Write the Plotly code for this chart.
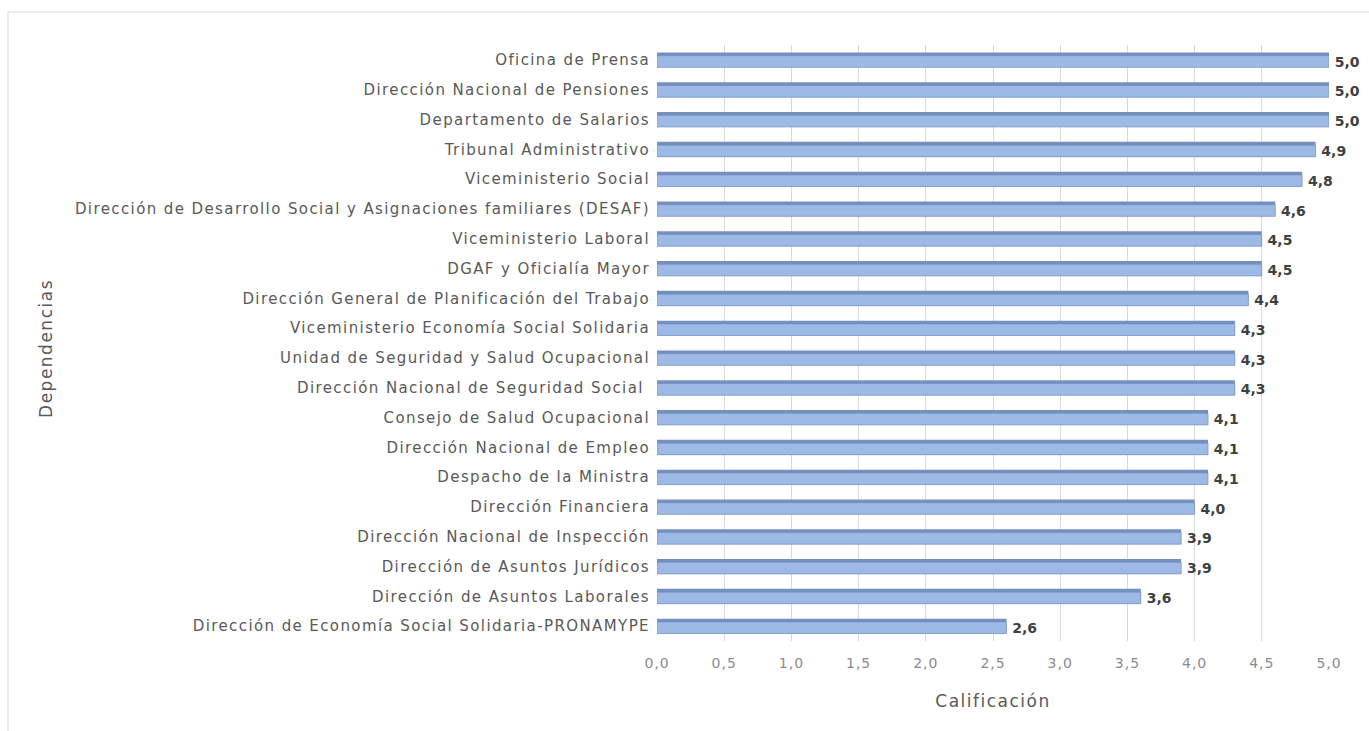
import plotly.graph_objects as go

dependencias = [
    "Oficina de Prensa",
    "Dirección Nacional de Pensiones",
    "Departamento de Salarios",
    "Tribunal Administrativo",
    "Viceministerio Social",
    "Dirección de Desarrollo Social y Asignaciones familiares (DESAF)",
    "Viceministerio Laboral",
    "DGAF y Oficialía Mayor",
    "Dirección General de Planificación del Trabajo",
    "Viceministerio Economía Social Solidaria",
    "Unidad de Seguridad y Salud Ocupacional",
    "Dirección Nacional de Seguridad Social ",
    "Consejo de Salud Ocupacional",
    "Dirección Nacional de Empleo",
    "Despacho de la Ministra",
    "Dirección Financiera",
    "Dirección Nacional de Inspección",
    "Dirección de Asuntos Jurídicos",
    "Dirección de Asuntos Laborales",
    "Dirección de Economía Social Solidaria-PRONAMYPE",
]
calificacion = [5.0, 5.0, 5.0, 4.9, 4.8, 4.6, 4.5, 4.5, 4.4, 4.3,
                4.3, 4.3, 4.1, 4.1, 4.1, 4.0, 3.9, 3.9, 3.6, 2.6]
tick_vals = [0, 0.5, 1, 1.5, 2, 2.5, 3, 3.5, 4, 4.5, 5]
tick_text = ["0,0", "0,5", "1,0", "1,5", "2,0", "2,5", "3,0", "3,5", "4,0", "4,5", "5,0"]

etiquetas = ["\u2009" + f"{v:.1f}".replace(".", ",") for v in calificacion]


def spaced(txt, px):
    return f'<span style="letter-spacing:{px}px">{txt}</span>'


FONT = "DejaVu Sans"
W, H = 1369, 731
ML, MR, MT, MB = 657, 40, 45, 90

fig = go.Figure()

# darker strip that reads as the bar's top face
fig.add_trace(go.Bar(
    y=dependencias, x=calificacion, orientation="h",
    width=0.5, offset=-0.25,
    marker=dict(color="#7590BF", line=dict(width=0)),
    hoverinfo="skip", showlegend=False,
))
# main bar face with value labels
fig.add_trace(go.Bar(
    y=dependencias, x=calificacion, orientation="h",
    width=0.39, offset=-0.14,
    marker=dict(color="#9DBAE6", line=dict(color="#6F8BBA", width=0.6)),
    text=etiquetas, textposition="outside", cliponaxis=False,
    constraintext="none",
    textfont=dict(family=FONT, size=14, color="#404040", weight="bold"),
    showlegend=False,
))

fig.update_layout(
    width=W, height=H,
    margin=dict(l=ML, r=MR, t=MT, b=MB),
    paper_bgcolor="white", plot_bgcolor="white",
    barmode="overlay",
    font=dict(family=FONT, color="#595959"),
    xaxis=dict(
        range=[0, 5.0], tickvals=tick_vals,
        ticktext=[spaced(t, 1) for t in tick_text],
        showgrid=True, gridcolor="#D9D9D9", gridwidth=1,
        zeroline=False, showline=False,
        tickfont=dict(size=14, color="#8C8C8C"),
        ticklabelstandoff=12,
        title=dict(text=spaced("Calificación", 1.5),
                   font=dict(size=17, color="#595959"), standoff=25),
    ),
    yaxis=dict(
        autorange="reversed", showgrid=False, showline=False, zeroline=False,
        tickvals=dependencias,
        ticktext=[spaced(d, 1.4) for d in dependencias],
        tickfont=dict(size=15, color="#595959"), ticklabelstandoff=6,
        ticks="",
    ),
    shapes=[dict(
        type="rect", xref="paper", yref="paper",
        x0=(8 - ML) / (W - ML - MR), x1=1.2,
        y0=-0.5, y1=(H - MB - 12) / (H - MT - MB),
        line=dict(color="#D9D9D9", width=1), layer="below",
    )],
    annotations=[dict(
        text=spaced("Dependencias", 1.5), xref="paper", yref="paper",
        x=(46 - ML) / (W - ML - MR), y=0.49, textangle=-90,
        showarrow=False, xanchor="center", yanchor="middle",
        font=dict(family=FONT, size=17, color="#595959"),
    )],
)

fig.write_html("out.html")
